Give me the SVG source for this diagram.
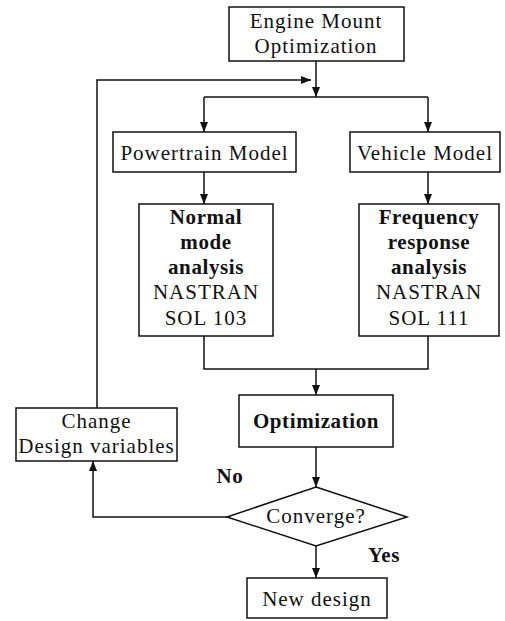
<svg xmlns="http://www.w3.org/2000/svg" width="505" height="621" viewBox="0 0 505 621">
<defs>
<style>
.box{fill:#fff;stroke:#111;stroke-width:1.5}
.ln{fill:none;stroke:#111;stroke-width:1.5}
.t{font-family:"Liberation Serif","Times New Roman",serif;font-size:21px;fill:#111;text-anchor:middle;letter-spacing:1px}
.b{font-weight:bold;letter-spacing:0.6px}
</style>
<marker id="ah" viewBox="0 0 10 8" refX="10" refY="4" markerWidth="10" markerHeight="8" markerUnits="userSpaceOnUse" orient="auto">
<path d="M0,0 L10,4 L0,8 z" fill="#111"/>
</marker>
</defs>
<rect width="505" height="621" fill="#fff"/>
<g id="connectors">
<path class="ln" d="M316,61 V97" marker-end="url(#ah)"/>
<path class="ln" d="M97,408 V80 H311" marker-end="url(#ah)"/>
<path class="ln" d="M204,97 H428"/>
<path class="ln" d="M204,97 V132" marker-end="url(#ah)"/>
<path class="ln" d="M428,97 V132" marker-end="url(#ah)"/>
<path class="ln" d="M204,172 V204" marker-end="url(#ah)"/>
<path class="ln" d="M428,172 V204" marker-end="url(#ah)"/>
<path class="ln" d="M204,336 V369 H428 V336"/>
<path class="ln" d="M316,369 V395" marker-end="url(#ah)"/>
<path class="ln" d="M316,447 V487" marker-end="url(#ah)"/>
<path class="ln" d="M227,517 H93 V461" marker-end="url(#ah)"/>
<path class="ln" d="M316,546 V578" marker-end="url(#ah)"/>
</g>
<g id="engine">
<rect class="box" x="229" y="7" width="175" height="54"/>
<text class="t" x="316" y="28">Engine Mount</text>
<text class="t" x="316" y="53">Optimization</text>
</g>
<g id="powertrain">
<rect class="box" x="113" y="132" width="183" height="40"/>
<text class="t" x="204.5" y="160">Powertrain Model</text>
</g>
<g id="vehicle">
<rect class="box" x="350" y="132" width="150" height="40"/>
<text class="t" x="425" y="160">Vehicle Model</text>
</g>
<g id="normal">
<rect class="box" x="139" y="204" width="134" height="132"/>
<text class="t b" x="206" y="224">Normal</text>
<text class="t b" x="206" y="249">mode</text>
<text class="t b" x="206" y="274">analysis</text>
<text class="t" x="206" y="299">NASTRAN</text>
<text class="t" x="206" y="325">SOL 103</text>
</g>
<g id="frequency">
<rect class="box" x="359" y="204" width="140" height="132"/>
<text class="t b" x="429" y="224">Frequency</text>
<text class="t b" x="429" y="249">response</text>
<text class="t b" x="429" y="274">analysis</text>
<text class="t" x="429" y="299">NASTRAN</text>
<text class="t" x="429" y="325">SOL 111</text>
</g>
<g id="optimization">
<rect class="box" x="239" y="395" width="154" height="52"/>
<text class="t b" x="316" y="428">Optimization</text>
</g>
<g id="change">
<rect class="box" x="16" y="408" width="161" height="53"/>
<text class="t" x="96.5" y="428">Change</text>
<text class="t" x="96.5" y="453">Design variables</text>
</g>
<g id="converge">
<polygon class="box" points="316,487 407,517 316,546 227,517"/>
<text class="t" x="316" y="523">Converge?</text>
</g>
<g id="newdesign">
<rect class="box" x="247" y="578" width="140" height="40"/>
<text class="t" x="317" y="606">New design</text>
</g>
<g id="labels">
<text class="t b" x="230" y="483">No</text>
<text class="t b" x="384" y="562">Yes</text>
</g>
</svg>
